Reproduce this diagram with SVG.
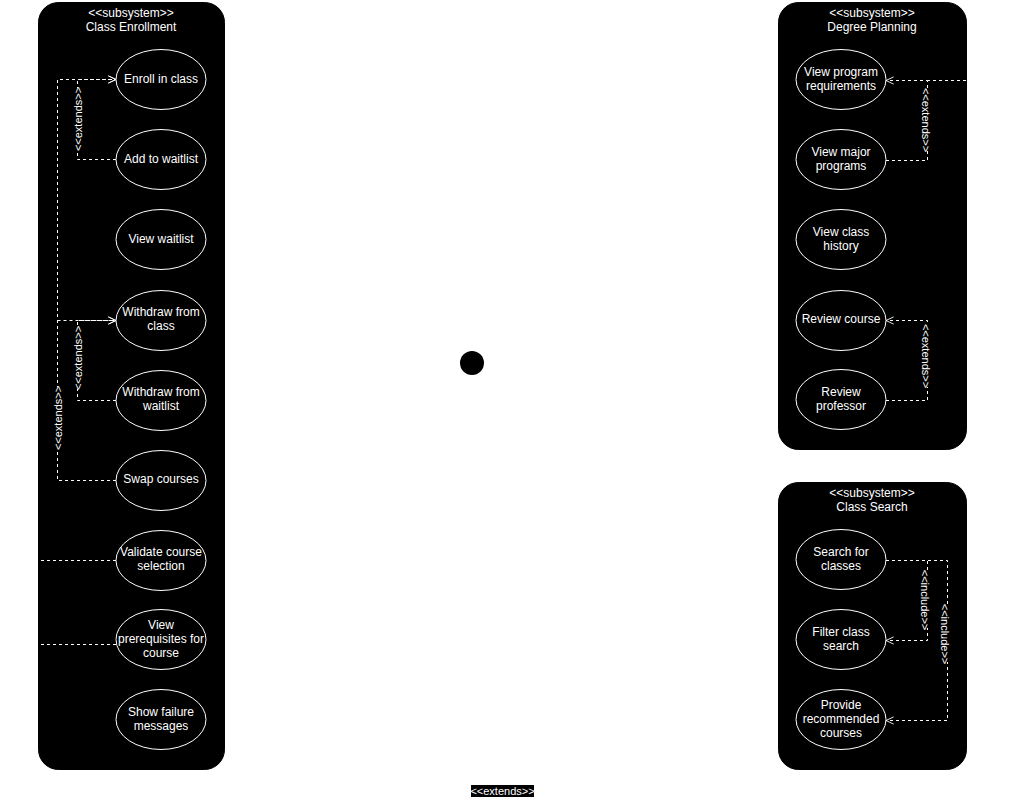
<svg xmlns="http://www.w3.org/2000/svg" width="1026" height="800" viewBox="0 0 1026 800">
<style>
  text { font-family: "Liberation Sans", Arial, sans-serif; font-size: 12px; fill: #ffffff; text-anchor: middle; dominant-baseline: central; }
  .sub { fill: #000000; stroke: #000000; stroke-width: 1; }
  .uc { fill: #000000; stroke: #ffffff; stroke-width: 1; }
  .edge { fill: none; stroke: #ffffff; stroke-width: 1; stroke-dasharray: 3 3; }
  .lbl { font-size: 11px; }
  .lblbg { fill: #000000; }
</style>
<defs>
  <marker id="open" viewBox="0 0 10 10" refX="9.5" refY="5" markerWidth="9" markerHeight="9" orient="auto" markerUnits="userSpaceOnUse">
    <path d="M1,1 L9.5,5 L1,9" fill="none" stroke="#ffffff" stroke-width="1"/>
  </marker>
</defs>
<rect width="1026" height="800" fill="#ffffff"/>

<g id="subsystem-class-enrollment">
  <rect class="sub" x="38.5" y="2.5" width="186" height="767" rx="20" ry="20"/>
  <text x="131" y="13">&lt;&lt;subsystem&gt;&gt;</text>
  <text x="131" y="27">Class Enrollment</text>
</g>
<g id="subsystem-degree-planning">
  <rect class="sub" x="778.5" y="2.5" width="188" height="447" rx="20" ry="20"/>
  <text x="872" y="13">&lt;&lt;subsystem&gt;&gt;</text>
  <text x="872" y="27">Degree Planning</text>
</g>
<g id="subsystem-class-search">
  <rect class="sub" x="778.5" y="482.5" width="188" height="287" rx="20" ry="20"/>
  <text x="872" y="493">&lt;&lt;subsystem&gt;&gt;</text>
  <text x="872" y="507">Class Search</text>
</g>

<g id="connectors">
  <!-- Class Enrollment -->
  <polyline class="edge" points="116,159.5 77.5,159.5 77.5,79.5 116,79.5" marker-end="url(#open)"/>
  <polyline class="edge" points="116,480.5 57.5,480.5 57.5,79.5 116,79.5" marker-end="url(#open)"/>
  <polyline class="edge" points="57.5,320.5 116,320.5" marker-end="url(#open)"/>
  <polyline class="edge" points="116,400.5 77.5,400.5 77.5,320.5 116,320.5" marker-end="url(#open)"/>
  <line class="edge" x1="116" y1="560.5" x2="39" y2="560.5"/>
  <line class="edge" x1="116" y1="644.5" x2="39" y2="644.5"/>
  <!-- Degree Planning -->
  <line class="edge" x1="966" y1="80.5" x2="927.5" y2="80.5"/>
  <polyline class="edge" points="886,160.5 927.5,160.5 927.5,80.5 886,80.5" marker-end="url(#open)"/>
  <polyline class="edge" points="886,400.5 927.5,400.5 927.5,320.5 886,320.5" marker-end="url(#open)"/>
  <!-- Class Search -->
  <polyline class="edge" points="886,560.5 927.5,560.5 927.5,640.5 886,640.5" marker-end="url(#open)"/>
  <polyline class="edge" points="886,560.5 947.5,560.5 947.5,720.5 886,720.5" marker-end="url(#open)"/>

  <!-- labels -->
  <g transform="translate(78,119) rotate(-90)">
    <rect class="lblbg" x="-31" y="-6" width="62" height="12"/>
    <text class="lbl" x="0" y="0">&lt;&lt;extends&gt;&gt;</text>
  </g>
  <g transform="translate(78,358) rotate(-90)">
    <rect class="lblbg" x="-31" y="-6" width="62" height="12"/>
    <text class="lbl" x="0" y="0">&lt;&lt;extends&gt;&gt;</text>
  </g>
  <g transform="translate(58,418) rotate(-90)">
    <rect class="lblbg" x="-31" y="-6" width="62" height="12"/>
    <text class="lbl" x="0" y="0">&lt;&lt;extends&gt;&gt;</text>
  </g>
  <g transform="translate(926,120) rotate(90)">
    <rect class="lblbg" x="-31" y="-6" width="62" height="12"/>
    <text class="lbl" x="0" y="0">&lt;&lt;extends&gt;&gt;</text>
  </g>
  <g transform="translate(926,356) rotate(90)">
    <rect class="lblbg" x="-31" y="-6" width="62" height="12"/>
    <text class="lbl" x="0" y="0">&lt;&lt;extends&gt;&gt;</text>
  </g>
  <g transform="translate(925,600) rotate(90)">
    <rect class="lblbg" x="-28" y="-6" width="56" height="12"/>
    <text class="lbl" x="0" y="0">&lt;&lt;include&gt;&gt;</text>
  </g>
  <g transform="translate(945,634) rotate(90)">
    <rect class="lblbg" x="-28" y="-6" width="56" height="12"/>
    <text class="lbl" x="0" y="0">&lt;&lt;include&gt;&gt;</text>
  </g>
  <g transform="translate(502.5,791)">
    <rect class="lblbg" x="-31.5" y="-6" width="63" height="12"/>
    <text class="lbl" x="0" y="0">&lt;&lt;extends&gt;&gt;</text>
  </g>
</g>

<!-- Class Enrollment use cases -->
<g id="uc-enroll-in-class"><ellipse class="uc" cx="161" cy="79.5" rx="45" ry="30"/><text x="161" y="79">Enroll in class</text></g>
<g id="uc-add-to-waitlist"><ellipse class="uc" cx="161" cy="159.5" rx="45" ry="30"/><text x="161" y="159">Add to waitlist</text></g>
<g id="uc-view-waitlist"><ellipse class="uc" cx="161" cy="239.5" rx="45" ry="30"/><text x="161" y="239">View waitlist</text></g>
<g id="uc-withdraw-class"><ellipse class="uc" cx="161" cy="320.5" rx="45" ry="30"/><text x="161" y="312">Withdraw from</text><text x="161" y="326">class</text></g>
<g id="uc-withdraw-waitlist"><ellipse class="uc" cx="161" cy="400.5" rx="45" ry="30"/><text x="161" y="392">Withdraw from</text><text x="161" y="406">waitlist</text></g>
<g id="uc-swap-courses"><ellipse class="uc" cx="161" cy="480.5" rx="45" ry="30"/><text x="161" y="479">Swap courses</text></g>
<g id="uc-validate"><ellipse class="uc" cx="161" cy="560.5" rx="45" ry="30"/><text x="161" y="552">Validate course</text><text x="161" y="566">selection</text></g>
<g id="uc-prereqs"><ellipse class="uc" cx="161" cy="639.5" rx="45" ry="30"/><text x="161" y="625">View</text><text x="161" y="639">prerequisites for</text><text x="161" y="653">course</text></g>
<g id="uc-failure"><ellipse class="uc" cx="161" cy="719.5" rx="45" ry="30"/><text x="161" y="712">Show failure</text><text x="161" y="726">messages</text></g>

<!-- Degree Planning use cases -->
<g id="uc-program-req"><ellipse class="uc" cx="841" cy="79.5" rx="45" ry="30"/><text x="841" y="72">View program</text><text x="841" y="86">requirements</text></g>
<g id="uc-major-programs"><ellipse class="uc" cx="841" cy="159.5" rx="45" ry="30"/><text x="841" y="152">View major</text><text x="841" y="166">programs</text></g>
<g id="uc-class-history"><ellipse class="uc" cx="841" cy="239.5" rx="45" ry="30"/><text x="841" y="232">View class</text><text x="841" y="246">history</text></g>
<g id="uc-review-course"><ellipse class="uc" cx="841" cy="320.5" rx="45" ry="30"/><text x="841" y="319">Review course</text></g>
<g id="uc-review-prof"><ellipse class="uc" cx="841" cy="399.5" rx="45" ry="30"/><text x="841" y="392">Review</text><text x="841" y="406">professor</text></g>

<!-- Class Search use cases -->
<g id="uc-search"><ellipse class="uc" cx="841" cy="559.5" rx="45" ry="30"/><text x="841" y="552">Search for</text><text x="841" y="566">classes</text></g>
<g id="uc-filter"><ellipse class="uc" cx="841" cy="639.5" rx="45" ry="30"/><text x="841" y="632">Filter class</text><text x="841" y="646">search</text></g>
<g id="uc-recommended"><ellipse class="uc" cx="841" cy="719.5" rx="45" ry="30"/><text x="841" y="705">Provide</text><text x="841" y="719">recommended</text><text x="841" y="733">courses</text></g>

<!-- Actor -->
<g id="actor-student">
  <circle cx="472" cy="363" r="12" fill="#000000"/>
  <g stroke="#ffffff" stroke-width="1" fill="none">
    <line x1="472" y1="375" x2="472" y2="417"/>
    <line x1="448" y1="383" x2="497" y2="383"/>
    <polyline points="447,450 472,417 497,450"/>
  </g>
  <text x="472" y="463" style="font-size:11px">Student</text>
</g>
</svg>
